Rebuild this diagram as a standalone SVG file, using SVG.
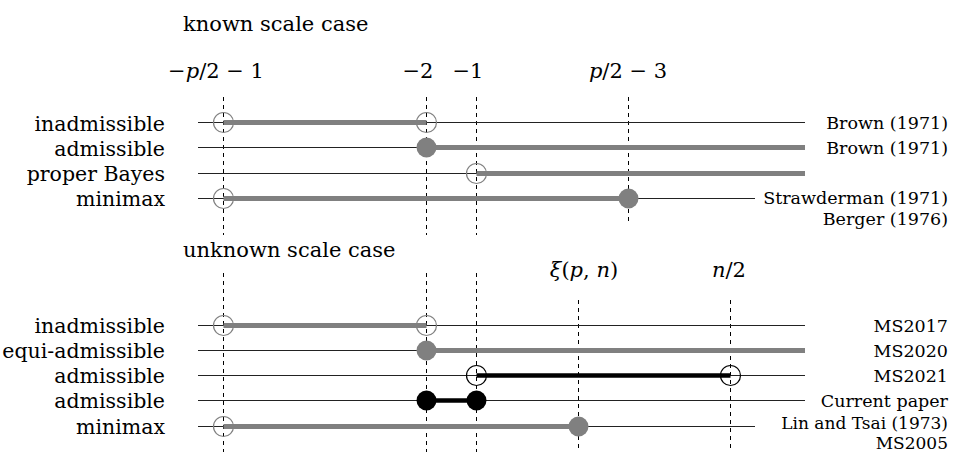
<svg xmlns="http://www.w3.org/2000/svg" width="953" height="453" viewBox="0 0 953 453">
<style>
text{font-family:'DejaVu Serif','Liberation Serif',serif;fill:#000}
.lab{font-size:20.5px;text-anchor:end}
.ref{font-size:17.5px;text-anchor:end}
.ref2{font-size:17px;text-anchor:end}
.ttl{font-size:21px}
.math{font-size:21px;text-anchor:middle}
.it{font-style:italic}
.dash{stroke:#000;stroke-width:1;stroke-dasharray:4 4;fill:none}
.thin{stroke:#222;stroke-width:1;fill:none}
.thickg{stroke:#808080;stroke-width:5;fill:none}
.thickb{stroke:#000;stroke-width:4.5;fill:none}
.og{fill:none;stroke:#808080;stroke-width:1.2}
.ob{fill:none;stroke:#000;stroke-width:1.2}
.fg{fill:#808080}
.fb{fill:#000}
</style>
<rect x="0" y="0" width="953" height="453" fill="#ffffff"/>

<g id="titles">
<text class="ttl" x="183" y="31">known scale case</text>
<text class="ttl" x="183" y="257">unknown scale case</text>
</g>

<g id="axis-labels">
<text class="math" x="216" y="78">−<tspan class="it">p</tspan>/2 − 1</text>
<text class="math" x="418" y="78">−2</text>
<text class="math" x="468" y="78">−1</text>
<text class="math" x="628" y="78"><tspan class="it">p</tspan>/2 − 3</text>
<text class="math" x="584" y="277"><tspan class="it">ξ</tspan>(<tspan class="it">p</tspan>, <tspan class="it">n</tspan>)</text>
<text class="math" x="729" y="277"><tspan class="it">n</tspan>/2</text>
</g>

<g id="connectors">
<line class="dash" x1="223.5" y1="97" x2="223.5" y2="235"/>
<line class="dash" x1="426.5" y1="97" x2="426.5" y2="235"/>
<line class="dash" x1="476.5" y1="97" x2="476.5" y2="235"/>
<line class="dash" x1="628.5" y1="97" x2="628.5" y2="223"/>
<line class="dash" x1="223.5" y1="273" x2="223.5" y2="452"/>
<line class="dash" x1="426.5" y1="273" x2="426.5" y2="452"/>
<line class="dash" x1="476.5" y1="273" x2="476.5" y2="452"/>
<line class="dash" x1="578.5" y1="300" x2="578.5" y2="452"/>
<line class="dash" x1="730.5" y1="300" x2="730.5" y2="452"/>
</g>

<g id="k-inadmissible">
<text class="lab" x="165" y="131">inadmissible</text>
<line class="thin" x1="198" y1="122.5" x2="805" y2="122.5"/>
<line class="thickg" x1="223.5" y1="122.5" x2="426.5" y2="122.5"/>
<circle class="og" cx="223.5" cy="122.5" r="10"/>
<circle class="og" cx="426.5" cy="122.5" r="10"/>
<text class="ref" x="948" y="129">Brown (1971)</text>
</g>

<g id="k-admissible">
<text class="lab" x="165" y="156">admissible</text>
<line class="thin" x1="198" y1="147.5" x2="805" y2="147.5"/>
<line class="thickg" x1="426.5" y1="147.5" x2="805" y2="147.5"/>
<circle class="fg" cx="426.5" cy="147.5" r="10"/>
<text class="ref" x="948" y="154">Brown (1971)</text>
</g>

<g id="k-proper-bayes">
<text class="lab" x="165" y="181">proper Bayes</text>
<line class="thin" x1="198" y1="173.5" x2="805" y2="173.5"/>
<line class="thickg" x1="476.5" y1="173.5" x2="805" y2="173.5"/>
<circle class="og" cx="476.5" cy="173.5" r="10"/>
</g>

<g id="k-minimax">
<text class="lab" x="165" y="206">minimax</text>
<line class="thin" x1="198" y1="198.5" x2="755" y2="198.5"/>
<line class="thickg" x1="223.5" y1="198.5" x2="628.5" y2="198.5"/>
<circle class="og" cx="223.5" cy="198.5" r="10"/>
<circle class="fg" cx="628.5" cy="198.5" r="10"/>
<text class="ref" x="948" y="204">Strawderman (1971)</text>
<text class="ref" x="948" y="225">Berger (1976)</text>
</g>

<g id="u-inadmissible">
<text class="lab" x="165" y="333">inadmissible</text>
<line class="thin" x1="198" y1="325.5" x2="805" y2="325.5"/>
<line class="thickg" x1="223.5" y1="325.5" x2="426.5" y2="325.5"/>
<circle class="og" cx="223.5" cy="325.5" r="10"/>
<circle class="og" cx="426.5" cy="325.5" r="10"/>
<text class="ref" x="948" y="332">MS2017</text>
</g>

<g id="u-equi-admissible">
<text class="lab" x="165" y="358">equi-admissible</text>
<line class="thin" x1="198" y1="350.5" x2="805" y2="350.5"/>
<line class="thickg" x1="426.5" y1="350.5" x2="805" y2="350.5"/>
<circle class="fg" cx="426.5" cy="350.5" r="10"/>
<text class="ref" x="948" y="357">MS2020</text>
</g>

<g id="u-admissible">
<text class="lab" x="165" y="383">admissible</text>
<line class="thin" x1="198" y1="375.5" x2="805" y2="375.5"/>
<line class="thickb" x1="476.5" y1="375.5" x2="730.5" y2="375.5"/>
<circle class="ob" cx="476.5" cy="375.5" r="10"/>
<circle class="ob" cx="730.5" cy="375.5" r="10"/>
<text class="ref" x="948" y="382">MS2021</text>
</g>

<g id="u-admissible-current">
<text class="lab" x="165" y="408">admissible</text>
<line class="thin" x1="198" y1="400.5" x2="805" y2="400.5"/>
<line class="thickb" x1="426.5" y1="400.5" x2="476.5" y2="400.5"/>
<circle class="fb" cx="426.5" cy="400.5" r="10"/>
<circle class="fb" cx="476.5" cy="400.5" r="10"/>
<text class="ref" x="948" y="407">Current paper</text>
</g>

<g id="u-minimax">
<text class="lab" x="165" y="434">minimax</text>
<line class="thin" x1="198" y1="426.5" x2="755" y2="426.5"/>
<line class="thickg" x1="223.5" y1="426.5" x2="578.5" y2="426.5"/>
<circle class="og" cx="223.5" cy="426.5" r="10"/>
<circle class="fg" cx="578.5" cy="426.5" r="10"/>
<text class="ref2" x="948" y="429">Lin and Tsai (1973)</text>
<text class="ref2" x="948" y="449">MS2005</text>
</g>
</svg>
